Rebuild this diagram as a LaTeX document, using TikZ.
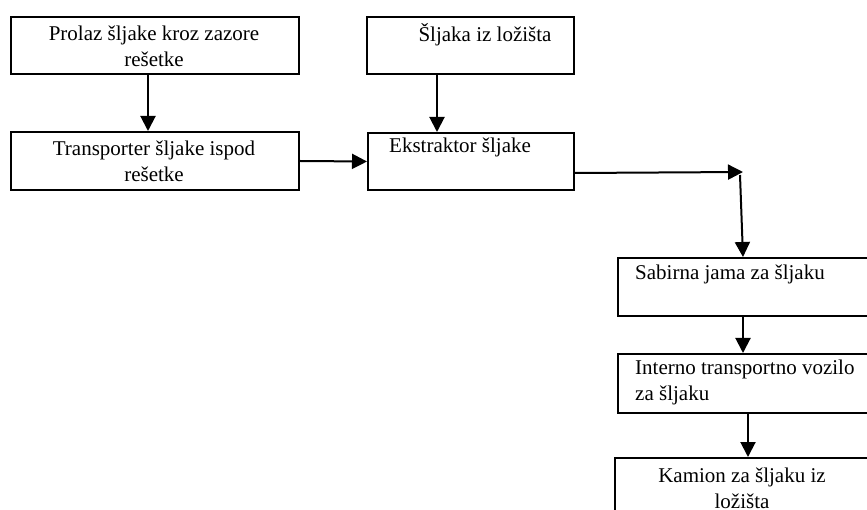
\documentclass[tikz,border=0pt]{standalone}
\usepackage{fontspec}
\setmainfont{Liberation Serif}
\usetikzlibrary{arrows.meta}
\begin{document}
\begin{tikzpicture}[x=1pt,y=-1pt,
  box/.style={draw=black,line width=2pt,rectangle,inner sep=0pt,anchor=north west},
  txt/.style={inner sep=0pt,font=\fontsize{21}{26}\selectfont},
  arr/.style={line width=2pt,-{Triangle[width=15pt,length=15pt]}}]
\useasboundingbox (0,0) rectangle (867,510);
\clip (0,0) rectangle (867,510);
% boxes
\node[box,minimum width=288pt,minimum height=57pt] (b1) at (10,15.7) {};
\node[box,minimum width=207pt,minimum height=57pt] (b2) at (366,15.7) {};
\node[box,minimum width=288pt,minimum height=58pt] (b3) at (10,131) {};
\node[box,minimum width=206pt,minimum height=57pt] (b4) at (367,132) {};
\node[box,minimum width=268pt,minimum height=58pt] (b5) at (617,257) {};
\node[box,minimum width=268pt,minimum height=59pt] (b6) at (617,353) {};
\node[box,minimum width=271pt,minimum height=73pt] (b7) at (614,457) {};
% texts
\node[txt,align=center] (t1) at (154,46.5) {Prolaz šljake kroz zazore\\rešetke};
\node[txt] (t2) at (485,35) {Šljaka iz ložišta};
\node[txt,align=center] (t3) at (154,161.5) {Transporter šljake ispod\\rešetke};
\node[txt,anchor=west] (t4) at (389,147) {Ekstraktor šljake};
\node[txt,anchor=west] (t5) at (635,274) {Sabirna jama za šljaku};
\node[txt,anchor=west,align=left] (t6) at (635,382.5) {Interno transportno vozilo\\za šljaku};
\node[txt,align=center] (t7) at (742,488) {Kamion za šljaku iz\\ložišta};
% connectors
\coordinate (c) at (743,172);
\draw[arr] ([xshift=-7pt]b1.south) -- ([xshift=-7pt]b3.north);
\draw[arr] ([xshift=-33.5pt]b2.south) -- ([xshift=-34pt]b4.north);
\draw[arr] (b3.east) -- (b4.west);
\draw[arr] ([yshift=-11.5pt]b4.east) -- (c);
\draw[arr] ([xshift=-3pt,yshift=-3pt]c) -- ([xshift=-9pt]b5.north);
\draw[arr] ([xshift=-9pt]b5.south) -- ([xshift=-9pt]b6.north);
\draw[arr] ([xshift=-4pt]b6.south) -- ([xshift=-2.5pt]b7.north);
\end{tikzpicture}
\end{document}
